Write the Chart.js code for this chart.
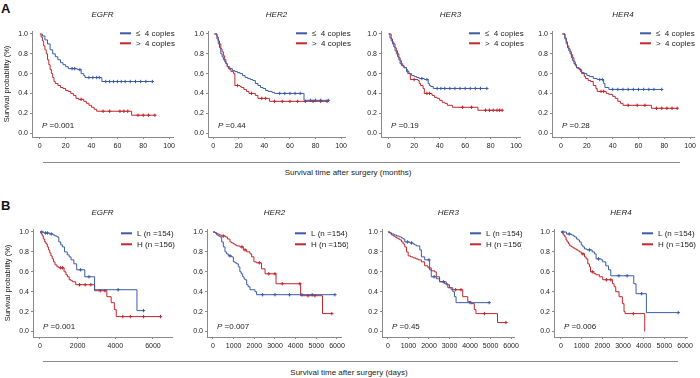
<!DOCTYPE html>
<html><head><meta charset="utf-8">
<script src="https://cdn.jsdelivr.net/npm/chart.js@4.4.0/dist/chart.umd.min.js"></script>
<style>
html,body{margin:0;padding:0;background:#fff;}
#page{position:relative;width:700px;height:378px;overflow:hidden;font-family:"Liberation Sans",Arial,sans-serif;color:#222;background:#fff;}
#page canvas{position:absolute;}
.lbl{position:absolute;white-space:nowrap;}
.sep{position:absolute;height:1px;background:#8c8c8c;}
</style></head><body>
<div id="page">
<div class="lbl" style="left:1px;top:1.6px;font:bold 13px/13px 'Liberation Sans',Arial,sans-serif;color:#111;">A</div>
<div class="lbl" style="left:1px;top:199.3px;font:bold 13px/13px 'Liberation Sans',Arial,sans-serif;color:#111;">B</div>
<div class="sep" style="left:43px;top:162px;width:637px"></div>
<div class="sep" style="left:43px;top:361px;width:635px"></div>
<div class="lbl" style="left:0;width:696px;text-align:center;top:168.7px;font:8px/8px 'Liberation Sans',Arial,sans-serif;">Survival time after surgery (months)</div>
<div class="lbl" style="left:0;width:698px;text-align:center;top:368.7px;font:8px/8px 'Liberation Sans',Arial,sans-serif;">Survival time after surgery (days)</div>
</div>
<script>
// ---------- data ----------
const genes = ['EGFR', 'HER2', 'HER3', 'HER4'];
const groupsA = ['\u2264  4 copies', '>  4 copies'];
const groupsB = ['L (n =154)', 'H (n =156)'];
const pValuesA = ['0.001', '0.44', '0.19', '0.28'];
const pValuesB = ['0.001', '0.007', '0.45', '0.006'];
const ticksMonths = [0, 20, 40, 60, 80, 100];
const ticksDaysWide = [0, 2000, 4000, 6000];
const ticksDays = [0, 1000, 2000, 3000, 4000, 5000, 6000];
const ticksSurv = [0, 0.2, 0.4, 0.6, 0.8, 1.0];

// Row A (months) — L = <=4 copies, H = >4 copies
const egfrA_L_t = [1, 2, 4, 6, 8, 10, 12, 14, 16, 18, 20, 22, 25, 27, 29, 31, 32, 34, 35, 38, 41, 44, 46, 48, 51, 54, 57, 60, 63, 66, 70, 74, 78, 82, 87];
const egfrA_L_s = [1.0, 0.98, 0.94, 0.9, 0.84, 0.8, 0.77, 0.74, 0.71, 0.69, 0.67, 0.65, 0.65, 0.65, 0.64, 0.64, 0.6, 0.58, 0.56, 0.56, 0.56, 0.56, 0.56, 0.52, 0.52, 0.52, 0.52, 0.52, 0.52, 0.52, 0.52, 0.52, 0.52, 0.52, 0.52];
const egfrA_H_t = [0, 1, 2, 3, 4, 5, 6, 7, 8, 9, 10, 11, 12, 14, 16, 18, 20, 22, 24, 26, 28, 30, 32, 34, 36, 38, 40, 42, 44, 49, 54, 62, 65, 68, 71, 76, 80, 84, 89];
const egfrA_H_s = [1.0, 0.97, 0.93, 0.88, 0.84, 0.8, 0.74, 0.69, 0.64, 0.6, 0.56, 0.52, 0.5, 0.48, 0.46, 0.45, 0.43, 0.42, 0.4, 0.38, 0.35, 0.34, 0.34, 0.32, 0.3, 0.28, 0.26, 0.24, 0.22, 0.22, 0.22, 0.22, 0.22, 0.22, 0.18, 0.18, 0.18, 0.18, 0.18];

const her2A_L_t = [1, 3, 4, 5, 6, 7, 8, 9, 10, 11, 13, 15, 17, 19, 21, 23, 25, 27, 29, 31, 33, 35, 37, 39, 41, 43, 46, 48, 52, 56, 60, 64, 68, 71, 76, 80, 84, 90];
const her2A_L_s = [1.0, 0.95, 0.9, 0.86, 0.8, 0.77, 0.74, 0.72, 0.7, 0.67, 0.65, 0.63, 0.62, 0.61, 0.6, 0.58, 0.56, 0.55, 0.54, 0.53, 0.5, 0.48, 0.46, 0.45, 0.43, 0.42, 0.41, 0.4, 0.4, 0.4, 0.4, 0.4, 0.4, 0.33, 0.33, 0.33, 0.33, 0.33];
const her2A_H_t = [1, 3, 4, 5, 6, 7, 8, 9, 10, 11, 12, 13, 14, 16, 17, 19, 21, 22, 24, 26, 28, 30, 33, 35, 38, 41, 44, 48, 54, 60, 66, 72, 78, 84, 89];
const her2A_H_s = [1.0, 0.97, 0.93, 0.9, 0.85, 0.82, 0.78, 0.74, 0.7, 0.67, 0.65, 0.64, 0.62, 0.6, 0.48, 0.48, 0.47, 0.46, 0.44, 0.42, 0.4, 0.4, 0.38, 0.35, 0.35, 0.35, 0.32, 0.32, 0.32, 0.32, 0.32, 0.32, 0.32, 0.32, 0.32];

const her3A_L_t = [0, 1, 2, 3, 4, 5, 6, 7, 8, 9, 10, 12, 14, 16, 18, 20, 22, 24, 26, 28, 30, 31, 32, 33, 35, 38, 41, 44, 48, 52, 56, 60, 64, 68, 72, 77];
const her3A_L_s = [1.0, 0.96, 0.93, 0.9, 0.87, 0.83, 0.8, 0.77, 0.74, 0.7, 0.68, 0.66, 0.62, 0.6, 0.58, 0.57, 0.56, 0.55, 0.55, 0.54, 0.54, 0.5, 0.48, 0.47, 0.45, 0.45, 0.45, 0.45, 0.45, 0.45, 0.45, 0.45, 0.45, 0.45, 0.45, 0.45];
const her3A_H_t = [0, 2, 3, 4, 5, 6, 7, 8, 9, 10, 11, 12, 14, 15, 17, 20, 23, 24, 25, 27, 28, 30, 32, 34, 36, 38, 40, 42, 44, 46, 50, 58, 65, 70, 76, 79, 82, 85, 87, 89];
const her3A_H_s = [1.0, 0.95, 0.92, 0.9, 0.86, 0.83, 0.8, 0.76, 0.73, 0.7, 0.68, 0.66, 0.64, 0.6, 0.54, 0.54, 0.53, 0.5, 0.48, 0.45, 0.4, 0.4, 0.4, 0.38, 0.36, 0.35, 0.33, 0.31, 0.3, 0.28, 0.26, 0.26, 0.26, 0.23, 0.23, 0.23, 0.23, 0.23, 0.23, 0.23];

const her4A_L_t = [1, 3, 4, 5, 6, 7, 8, 9, 10, 11, 12, 14, 16, 18, 20, 22, 25, 28, 30, 32, 33, 34, 37, 40, 44, 48, 52, 56, 60, 64, 68, 72, 78];
const her4A_L_s = [1.0, 0.95, 0.9, 0.86, 0.83, 0.8, 0.76, 0.73, 0.7, 0.68, 0.66, 0.64, 0.61, 0.6, 0.58, 0.57, 0.55, 0.54, 0.54, 0.54, 0.5, 0.46, 0.44, 0.44, 0.44, 0.44, 0.44, 0.44, 0.44, 0.44, 0.44, 0.44, 0.44];
const her4A_H_t = [1, 3, 4, 5, 6, 7, 8, 9, 10, 11, 12, 13, 15, 16, 18, 19, 21, 23, 25, 27, 28, 31, 33, 35, 37, 40, 42, 44, 46, 48, 52, 59, 65, 70, 74, 78, 82, 86, 90];
const her4A_H_s = [1.0, 0.96, 0.92, 0.88, 0.85, 0.82, 0.79, 0.76, 0.72, 0.69, 0.66, 0.65, 0.62, 0.6, 0.57, 0.55, 0.53, 0.52, 0.48, 0.45, 0.42, 0.42, 0.42, 0.4, 0.39, 0.37, 0.35, 0.32, 0.3, 0.28, 0.28, 0.28, 0.28, 0.25, 0.25, 0.25, 0.25, 0.25, 0.25];

// Row B (days) — L (n=154), H (n=156)
const egfrB_L_t = [0, 100, 200, 300, 400, 500, 600, 700, 800, 900, 1000, 1100, 1200, 1300, 1450, 1550, 1650, 1800, 1950, 2150, 2380, 2600, 2900, 4150, 5150, 5500];
const egfrB_L_s = [1.0, 1.0, 0.99, 0.99, 0.99, 0.98, 0.98, 0.97, 0.96, 0.95, 0.9, 0.87, 0.85, 0.8, 0.77, 0.75, 0.72, 0.68, 0.62, 0.62, 0.55, 0.55, 0.42, 0.42, 0.21, 0.21];
const egfrB_H_t = [0, 60, 120, 180, 250, 320, 390, 450, 520, 580, 650, 720, 800, 900, 1000, 1100, 1200, 1280, 1380, 1460, 1550, 1650, 1730, 1900, 2100, 2400, 2700, 2900, 3200, 3450, 3550, 3780, 3950, 4050, 4400, 4800, 5500, 6400];
const egfrB_H_s = [1.0, 0.98, 0.96, 0.93, 0.9, 0.88, 0.85, 0.82, 0.79, 0.76, 0.73, 0.7, 0.67, 0.65, 0.64, 0.64, 0.64, 0.6, 0.57, 0.55, 0.52, 0.51, 0.5, 0.47, 0.47, 0.47, 0.47, 0.41, 0.41, 0.41, 0.35, 0.29, 0.22, 0.15, 0.15, 0.15, 0.15, 0.15];

const her2B_L_t = [0, 100, 180, 260, 340, 420, 500, 580, 660, 740, 820, 900, 985, 1065, 1145, 1225, 1300, 1370, 1435, 1500, 1550, 1630, 1700, 1790, 2030, 2110, 2400, 3000, 3700, 4300, 4800, 5900];
const her2B_L_s = [1.0, 0.99, 0.97, 0.96, 0.95, 0.9, 0.85, 0.8, 0.78, 0.76, 0.76, 0.75, 0.7, 0.69, 0.68, 0.65, 0.6, 0.58, 0.55, 0.53, 0.52, 0.47, 0.45, 0.42, 0.4, 0.37, 0.37, 0.37, 0.37, 0.37, 0.37, 0.37];
const her2B_H_t = [0, 100, 200, 300, 400, 500, 600, 700, 820, 900, 985, 1065, 1145, 1300, 1400, 1470, 1550, 1630, 1790, 1870, 1980, 2100, 2240, 2350, 2520, 2700, 3000, 3050, 3350, 4200, 4240, 4600, 4930, 5300, 5750];
const her2B_H_s = [1.0, 0.99, 0.98, 0.97, 0.96, 0.96, 0.95, 0.93, 0.9, 0.89, 0.88, 0.87, 0.86, 0.85, 0.85, 0.82, 0.82, 0.8, 0.78, 0.75, 0.7, 0.69, 0.69, 0.63, 0.58, 0.58, 0.58, 0.48, 0.48, 0.48, 0.36, 0.36, 0.36, 0.18, 0.18];

const her3B_L_t = [0, 100, 180, 300, 420, 550, 660, 740, 820, 950, 1065, 1150, 1225, 1300, 1390, 1550, 1630, 1790, 2000, 2030, 2110, 2250, 2355, 2516, 2700, 2840, 3000, 3160, 3240, 3320, 4000, 4935];
const her3B_L_s = [1.0, 0.99, 0.98, 0.97, 0.96, 0.95, 0.94, 0.93, 0.9, 0.9, 0.89, 0.89, 0.88, 0.87, 0.86, 0.82, 0.75, 0.72, 0.72, 0.62, 0.55, 0.55, 0.53, 0.5, 0.5, 0.47, 0.44, 0.4, 0.35, 0.29, 0.29, 0.29];
const her3B_H_t = [0, 80, 170, 260, 340, 420, 500, 580, 660, 740, 820, 900, 985, 1100, 1225, 1350, 1470, 1630, 1790, 1950, 2110, 2270, 2355, 2516, 2760, 2920, 3080, 3300, 3560, 3645, 3890, 4050, 4210, 4290, 4700, 5340, 5750];
const her3B_H_s = [1.0, 0.99, 0.97, 0.96, 0.95, 0.94, 0.93, 0.92, 0.9, 0.88, 0.85, 0.8, 0.76, 0.75, 0.74, 0.73, 0.72, 0.7, 0.66, 0.64, 0.61, 0.6, 0.55, 0.5, 0.48, 0.44, 0.42, 0.42, 0.42, 0.35, 0.3, 0.28, 0.22, 0.18, 0.18, 0.09, 0.09];

const her4B_L_t = [0, 100, 270, 400, 510, 600, 670, 750, 830, 900, 985, 1060, 1140, 1260, 1380, 1510, 1620, 1700, 1820, 1940, 2020, 2170, 2300, 2410, 2800, 3200, 3520, 3630, 3900, 4130, 5670];
const her4B_L_s = [1.0, 1.0, 0.98, 0.98, 0.97, 0.96, 0.95, 0.93, 0.92, 0.9, 0.87, 0.85, 0.83, 0.82, 0.82, 0.8, 0.78, 0.73, 0.73, 0.72, 0.7, 0.66, 0.62, 0.56, 0.56, 0.56, 0.48, 0.38, 0.38, 0.19, 0.19];
const her4B_H_t = [0, 60, 110, 190, 250, 300, 370, 430, 510, 590, 670, 750, 830, 900, 985, 1065, 1140, 1220, 1300, 1380, 1430, 1520, 1600, 1700, 1860, 2020, 2200, 2410, 2490, 2570, 2650, 2810, 2970, 3050, 3100, 3500, 4050];
const her4B_H_s = [1.0, 0.99, 0.97, 0.95, 0.92, 0.9, 0.88, 0.86, 0.85, 0.84, 0.83, 0.82, 0.81, 0.8, 0.78, 0.78, 0.75, 0.73, 0.68, 0.65, 0.6, 0.6, 0.58, 0.57, 0.55, 0.52, 0.52, 0.52, 0.48, 0.45, 0.4, 0.35, 0.28, 0.2, 0.18, 0.18, 0.0];

// ---------- layout & style ----------
const FONT = '"Liberation Sans", Arial, sans-serif';
const BLUE = '#3a5ba8', RED = '#c3262c', AX = '#8a8a8a', TXT = '#222';
const PADL = 30, PADT = 28, PADR = 6, PADB = 18;
const rowA = { T: 31, B: 137, ymin: -0.04, ymax: 1.03, legY: [2.3, 12.3], pY: -11, labels: groupsA, p: pValuesA,
  panels: [ {L: 32, R: 173, min: -6, max: 103}, {L: 208, R: 345, min: -4, max: 103}, {L: 381, R: 520, min: -6, max: 103}, {L: 552, R: 694, min: -7, max: 103} ] };
const rowB = { T: 229, B: 337, ymin: -0.055, ymax: 1.03, legY: [4.3, 15.3], pY: -10, labels: groupsB, p: pValuesB,
  panels: [ {L: 33, R: 172, min: -370, max: 7010}, {L: 207, R: 342, min: -290, max: 6240}, {L: 382, R: 516, min: -290, max: 6180}, {L: 554, R: 690, min: -333, max: 6140} ] };

const curvesA = [[egfrA_L_t, egfrA_L_s, egfrA_H_t, egfrA_H_s], [her2A_L_t, her2A_L_s, her2A_H_t, her2A_H_s], [her3A_L_t, her3A_L_s, her3A_H_t, her3A_H_s], [her4A_L_t, her4A_L_s, her4A_H_t, her4A_H_s]];
const curvesB = [[egfrB_L_t, egfrB_L_s, egfrB_H_t, egfrB_H_s], [her2B_L_t, her2B_L_s, her2B_H_t, her2B_H_s], [her3B_L_t, her3B_L_s, her3B_H_t, her3B_H_s], [her4B_L_t, her4B_L_s, her4B_H_t, her4B_H_s]];

const page = document.getElementById('page');

function points(t, s) { return t.map((x, i) => ({ x: x, y: s[i] })); }
function censorRadius(c) {
  const d = c.dataset.data, i = c.dataIndex;
  return (i > 0 && d[i].y === d[i - 1].y) ? 1.7 : 0;
}
function dataset(label, t, s, color) {
  return { label: label, data: points(t, s), borderColor: color, backgroundColor: color, borderWidth: 1,
    stepped: true, fill: false, pointStyle: 'cross', pointRadius: censorRadius, pointHoverRadius: 0,
    pointBorderColor: color, pointBorderWidth: 1 };
}
function extras(gene, pval, row) {
  return { id: 'extras', afterDraw(chart) {
    const ctx = chart.ctx, a = chart.chartArea;
    ctx.save();
    ctx.fillStyle = TXT; ctx.textBaseline = 'middle';
    ctx.font = 'italic 8px ' + FONT; ctx.textAlign = 'center';
    ctx.fillText(gene, (a.left + a.right) / 2, a.top - 16);
    ctx.textAlign = 'left';
    chart.data.datasets.forEach((ds, i) => {
      const y = a.top + row.legY[i], x0 = a.left + 88;
      ctx.strokeStyle = ds.borderColor; ctx.lineWidth = 2;
      ctx.beginPath(); ctx.moveTo(x0, y); ctx.lineTo(x0 + 11, y); ctx.stroke();
      ctx.font = '8px ' + FONT; ctx.fillText(ds.label, x0 + 16, y);
    });
    const py = a.bottom + row.pY, px = a.left + 10;
    ctx.font = 'italic 8px ' + FONT; ctx.fillText('P', px, py);
    const w = ctx.measureText('P').width;
    ctx.font = '8px ' + FONT; ctx.fillText(' =' + pval, px + w, py);
    ctx.restore();
  } };
}
function makePanel(row, k, curves, xticks) {
  const p = row.panels[k];
  const c = document.createElement('canvas');
  const w = p.R - p.L + PADL + PADR, h = row.B - row.T + PADT + PADB;
  c.width = w; c.height = h;
  c.style.left = (p.L - PADL) + 'px'; c.style.top = (row.T - PADT) + 'px';
  c.style.width = w + 'px'; c.style.height = h + 'px';
  page.appendChild(c);
  const cv = curves[k];
  new Chart(c, {
    type: 'line',
    data: { datasets: [dataset(row.labels[0], cv[0], cv[1], BLUE), dataset(row.labels[1], cv[2], cv[3], RED)] },
    options: {
      responsive: false, animation: false, devicePixelRatio: 1, events: [],
      layout: { padding: { left: 0, top: PADT, right: PADR, bottom: 0 } },
      plugins: { legend: { display: false }, tooltip: { enabled: false }, title: { display: false } },
      scales: {
        x: { type: 'linear', min: p.min, max: p.max,
          afterBuildTicks: ax => { ax.ticks = xticks.map(v => ({ value: v })); },
          afterFit: s => { s.height = PADB; },
          grid: { display: true, drawOnChartArea: false, drawTicks: true, tickLength: 2, color: AX },
          border: { display: true, color: AX, width: 1 },
          ticks: { font: { family: FONT, size: 7 }, color: TXT, padding: 3, autoSkip: false, maxRotation: 0, minRotation: 0, callback: v => String(v) } },
        y: { type: 'linear', min: row.ymin, max: row.ymax,
          afterBuildTicks: ax => { ax.ticks = ticksSurv.map(v => ({ value: v })); },
          afterFit: s => { s.width = PADL; },
          grid: { display: true, drawOnChartArea: false, drawTicks: true, tickLength: 2, color: AX },
          border: { display: true, color: AX, width: 1 },
          ticks: { font: { family: FONT, size: 7 }, color: TXT, padding: 2, autoSkip: false, callback: v => v.toFixed(1) },
          title: { display: k === 0, text: 'Survival probability (%)', font: { family: FONT, size: 7.5 }, color: TXT, padding: 0 } }
      }
    },
    plugins: [extras(genes[k], row.p[k], row)]
  });
}
for (let k = 0; k < 4; k++) {
  makePanel(rowA, k, curvesA, ticksMonths);
  makePanel(rowB, k, curvesB, k === 0 ? ticksDaysWide : ticksDays);
}
</script>
</body></html>
